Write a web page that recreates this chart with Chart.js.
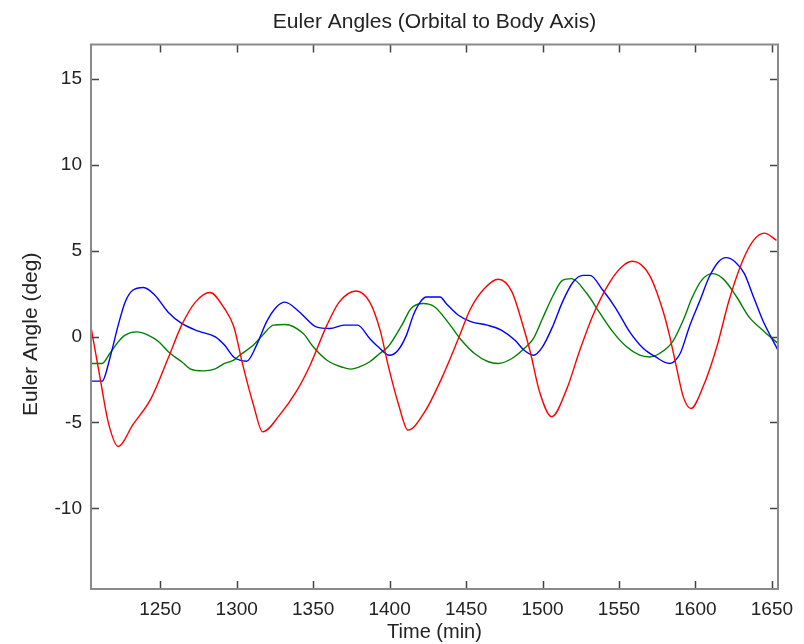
<!DOCTYPE html>
<html>
<head>
<meta charset="utf-8">
<script src="https://cdn.jsdelivr.net/npm/chart.js@4"></script>
<style>
  html, body { margin: 0; padding: 0; background: #fff; }
  #wrap { width: 804px; height: 644px; }
</style>
</head>
<body>
<div id="wrap"><canvas id="eulerChart" width="804" height="644"></canvas></div>
<script>
// tick positions
const xTicks = [1250, 1300, 1350, 1400, 1450, 1500, 1550, 1600, 1650];
const yTicks = [-10, -5, 0, 5, 10, 15];

// red series (time in min, angle in deg)
const redTime = [1205, 1211, 1216, 1222.5, 1232, 1244, 1255, 1264, 1273, 1282.5,
  1292, 1298, 1304, 1311, 1317, 1328, 1339, 1348, 1359, 1367,
  1378, 1387, 1394, 1399, 1406, 1412, 1423, 1434, 1445, 1453,
  1462, 1471, 1480, 1487, 1492, 1498, 1506, 1516, 1524, 1533,
  1544, 1553, 1559, 1570, 1579, 1583, 1588, 1592, 1597, 1605,
  1614, 1622, 1631, 1638, 1645, 1653];
const red = [0.4, -2.6, -5.0, -6.4, -5.15, -3.6, -1.3, 0.66, 2.0, 2.56,
  1.63, 0.6, -1.67, -4.0, -5.55, -4.58, -3.2, -1.67, 0.66, 2.0,
  2.65, 2.0, 0.3, -1.67, -4.0, -5.45, -4.38, -2.44, -0.12, 1.63,
  2.79, 3.33, 2.6, 0.7, -0.9, -3.2, -4.67, -3.02, -0.9, 1.24,
  3.17, 4.15, 4.38, 3.56, 1.43, 0.08, -1.96, -3.5, -4.19, -2.93,
  -0.6, 2.11, 4.44, 5.6, 6.02, 5.6];

// blue series
const blueTime = [1205, 1212, 1217, 1222.5, 1227, 1232, 1239, 1246.5, 1255, 1264,
  1275, 1286, 1292, 1298, 1302, 1306.5, 1313, 1319.5, 1326, 1331.5,
  1341, 1352, 1361, 1370, 1379, 1387, 1392.5, 1400, 1405.5, 1411,
  1415.5, 1420, 1424, 1433, 1437, 1445, 1453.5, 1464, 1473, 1482,
  1488, 1494, 1500, 1507, 1513, 1520, 1526.5, 1531, 1539.5, 1548,
  1557, 1566, 1574, 1583, 1590, 1596, 1603, 1609, 1615, 1620,
  1626, 1632, 1638, 1644, 1650, 1654];
const blue = [-2.6, -2.6, -1.28, 0.66, 2.0, 2.69, 2.85, 2.4, 1.43, 0.76,
  0.31, -0.02, -0.5, -1.19, -1.38, -1.44, -0.5, 0.85, 1.72, 2.0,
  1.43, 0.56, 0.47, 0.66, 0.66, -0.12, -0.6, -1.09, -0.8, 0.08,
  1.24, 2.0, 2.3, 2.3, 1.92, 1.24, 0.85, 0.66, 0.37, -0.22,
  -0.8, -1.09, -0.6, 0.66, 2.0, 3.17, 3.56, 3.56, 2.69, 1.63,
  0.27, -0.7, -1.19, -1.57, -0.99, 0.56, 2.11, 3.46, 4.34, 4.59,
  4.34, 3.66, 2.3, 0.95, -0.12, -0.8];

// green series
const greenTime = [1205, 1212, 1217, 1222.5, 1227, 1234.5, 1242, 1249, 1256, 1264,
  1269.5, 1278, 1286, 1292, 1298, 1302, 1311, 1317, 1324, 1331.5, 1343.5,
  1350, 1359, 1369.5, 1374.5, 1379.5, 1387, 1393.5, 1399, 1408, 1414, 1422,
  1429.5, 1438, 1447, 1455.5, 1464.5, 1471, 1480, 1488, 1494, 1500,
  1507, 1513, 1519, 1529, 1537, 1546, 1555, 1563.5, 1570, 1576.5,
  1585, 1592, 1598, 1604, 1611, 1618, 1627, 1635, 1644, 1654];
const green = [-1.57, -1.57, -0.99, -0.31, 0.08, 0.27, 0.08, -0.31, -0.95, -1.47,
  -1.88, -2.0, -1.88, -1.57, -1.38, -1.09, -0.5, 0.08, 0.66, 0.7, 0.17,
  -0.6, -1.38, -1.8, -1.9, -1.8, -1.47, -0.99, -0.6, 0.66, 1.63, 1.92,
  1.72, 0.85, -0.22, -0.99, -1.47, -1.57, -1.28, -0.7, -0.12, 1.05,
  2.4, 3.27, 3.37, 2.5, 1.43, 0.27, -0.6, -1.09, -1.19, -0.99,
  -0.31, 0.95, 2.3, 3.27, 3.66, 3.37, 2.3, 1.14, 0.37, -0.41];

const toPoints = (xs, ys) => xs.map((x, i) => ({ x: x, y: ys[i] }));

const fontFamily = '"Liberation Sans", Arial, sans-serif';

// matlab style box with inward ticks
const boxTicks = {
    id: 'boxTicks',
    afterDatasetsDraw(chart) {
        const { ctx, chartArea: a, scales } = chart;
        ctx.save();
        ctx.strokeStyle = '#444';
        ctx.lineWidth = 1.5;
        const len = 8;
        ctx.beginPath();
        xTicks.forEach(v => {
            const px = Math.round(scales.x.getPixelForValue(v)) + 0.5;
            ctx.moveTo(px, a.bottom); ctx.lineTo(px, a.bottom - len);
            ctx.moveTo(px, a.top); ctx.lineTo(px, a.top + len);
        });
        yTicks.forEach(v => {
            const py = Math.round(scales.y.getPixelForValue(v)) + 0.5;
            ctx.moveTo(a.left, py); ctx.lineTo(a.left + len, py);
            ctx.moveTo(a.right, py); ctx.lineTo(a.right - len, py);
        });
        ctx.stroke();
        ctx.strokeStyle = '#8a8a8a';
        ctx.lineWidth = 2;
        ctx.strokeRect(a.left, a.top, a.right - a.left, a.bottom - a.top);
        ctx.restore();
    }
};

const ctx = document.getElementById('eulerChart').getContext('2d');
const eulerChart = new Chart(ctx, {
    type: 'line',
    data: {
        datasets: [
            { label: 'red', data: toPoints(redTime, red), borderColor: '#ff0000' },
            { label: 'blue', data: toPoints(blueTime, blue), borderColor: '#0000ff' },
            { label: 'green', data: toPoints(greenTime, green), borderColor: '#008000' }
        ]
    },
    options: {
        responsive: false,
        animation: false,
        layout: { padding: { left: 0, right: 26, top: 0, bottom: 0 } },
        elements: {
            point: { radius: 0 },
            line: { borderWidth: 1.4, cubicInterpolationMode: 'monotone', fill: false }
        },
        plugins: {
            legend: { display: false },
            tooltip: { enabled: false },
            title: { display: false }
        },
        scales: {
            x: {
                type: 'linear',
                min: 1204.7,
                max: 1654,
                afterBuildTicks: (scale) => { scale.ticks = xTicks.map(v => ({ value: v })); },
                afterFit: (scale) => { scale.height = 55; },
                grid: { display: false, drawTicks: false },
                border: { display: false },
                ticks: {
                    color: '#222', padding: 9, maxRotation: 0,
                    font: { family: fontFamily, size: 19 },
                    callback: (v) => String(v)
                },
                title: {
                    display: true,
                    text: 'Time (min)',
                    color: '#222',
                    font: { family: fontFamily, size: 20 },
                    padding: { top: 0, bottom: 0 }
                }
            },
            // top axis only carries the chart title, centred over the plot box
            xTop: {
                type: 'linear',
                position: 'top',
                display: true,
                min: 1204.7,
                max: 1654,
                afterFit: (scale) => { scale.height = 44.5; },
                grid: { display: false, drawTicks: false },
                border: { display: false },
                ticks: { display: false },
                title: {
                    display: true,
                    text: 'Euler Angles (Orbital to Body Axis)',
                    color: '#222',
                    font: { family: fontFamily, size: 21 },
                    padding: { top: 10, bottom: 0 }
                }
            },
            y: {
                type: 'linear',
                min: -14.7,
                max: 17,
                afterBuildTicks: (scale) => { scale.ticks = yTicks.map(v => ({ value: v })); },
                afterFit: (scale) => { scale.width = 91; },
                grid: { display: false, drawTicks: false },
                border: { display: false },
                ticks: { color: '#222', padding: 9, font: { family: fontFamily, size: 19 } },
                title: {
                    display: true,
                    text: 'Euler Angle (deg)      ',
                    color: '#222',
                    font: { family: fontFamily, size: 21 },
                    padding: { top: 19, bottom: 0 }
                }
            }
        }
    },
    plugins: [boxTicks]
});
</script>
</body>
</html>
